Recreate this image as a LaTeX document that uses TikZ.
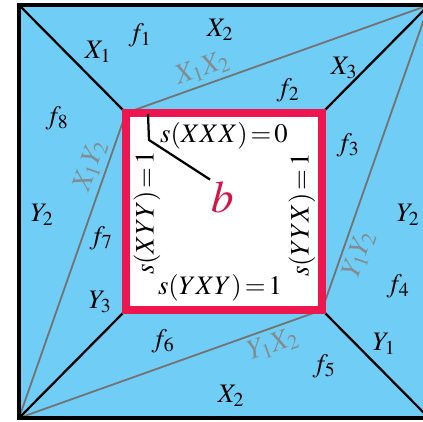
\documentclass[tikz,border=0pt]{standalone}
\usepackage{mathptmx}
\usetikzlibrary{calc}
\definecolor{bgblue}{RGB}{112,206,246}
\definecolor{edgered}{RGB}{238,22,78}
\definecolor{labgray}{RGB}{130,140,145}

\begin{document}
\begin{tikzpicture}[x=0.025cm, y=-0.025cm,
    lab/.style={font=\fontsize{19}{22}\selectfont, inner sep=1pt},
    glab/.style={text=labgray, font=\fontsize{20}{22}\selectfont, inner sep=3pt},
    gedge/.style={draw=gray!90!black, line width=1.3pt},
    bedge/.style={draw=black, line width=1.6pt}]

    \clip (0,0) rectangle (423,422);
    \fill[white] (0,0) rectangle (423,422);

    % Coins
    \coordinate (otl) at (19,5);
    \coordinate (otr) at (429,5);
    \coordinate (obl) at (19,418);
    \coordinate (obr) at (429,418);
    \coordinate (itl) at (126,113);
    \coordinate (itr) at (322,113);
    \coordinate (ibl) at (126,310);
    \coordinate (ibr) at (322,310);

    % Faces
    \fill[bgblue] (otl) rectangle (obr);
    \fill[white] (itl) rectangle (ibr);

    % Aretes grises
    \draw[gedge] (itl) -- node[glab, sloped, above, pos=0.27] (x1x2) {$X_1X_2$} (otr);
    \draw[gedge] (obl) -- node[glab, sloped, above, pos=0.81] (x1y2) {$X_1Y_2$} (itl);
    \draw[gedge] (ibr) -- node[glab, sloped, below, pos=0.2] (y1y2) {$Y_1Y_2$} (otr);
    \draw[gedge] (obl) -- node[glab, sloped, below, pos=0.82] (y1x2) {$Y_1X_2$} (ibr);

    % Aretes noires
    \draw[bedge] (otl) -- (itl);
    \draw[bedge] (otr) -- (itr);
    \draw[bedge] (obl) -- (ibl);
    \draw[bedge] (obr) -- (ibr);

    % Cadres
    \draw[line width=2.2pt] (otl) rectangle (obr);
    \draw[edgered, line width=5.5pt] (itl) rectangle (ibr);

    % Etiquettes
    \node[lab] (f1) at (140,35) {$f_1$};
    \node[lab] (f2) at (288,90) {$f_2$};
    \node[lab] (f3) at (348,145) {$f_3$};
    \node[lab] (f4) at (398,286) {$f_4$};
    \node[lab] (f5) at (324,366) {$f_5$};
    \node[lab] (f6) at (163,341) {$f_6$};
    \node[lab] (f7) at (101,238) {$f_7$};
    \node[lab] (f8) at (57,118) {$f_8$};
    \node[lab] (x1) at (98,52) {$X_1$};
    \node[lab] (x2t) at (220,30) {$X_2$};
    \node[lab] (x3) at (344,68) {$X_3$};
    \node[lab] (y2l) at (42,215) {$Y_2$};
    \node[lab] (y2r) at (408,215) {$Y_2$};
    \node[lab] (y3) at (100,302) {$Y_3$};
    \node[lab] (y1) at (384,344) {$Y_1$};
    \node[lab] (x2b) at (231,396) {$X_2$};

    % Carre interieur
    \node[lab] (sxxx) at (224,136) {$s(XXX)\!=\!0$};
    \node[lab] (syxy) at (220,288) {$s(YXY)\!=\!1$};
    \node[lab, rotate=90] (sxyy) at (147,213) {$s(XYY)\!=\!1$};
    \node[lab, rotate=90] (syyx) at (302,215) {$s(YYX)\!=\!1$};
    \node[text=edgered!90!black, font=\fontsize{32}{36}\selectfont, inner sep=1pt] (b) at (223,197) {$b$};

    \coordinate (ptop) at (148,114);
    \draw[bedge] (ptop) -- (149,140) -- (b.north west);

\end{tikzpicture}
\end{document}
